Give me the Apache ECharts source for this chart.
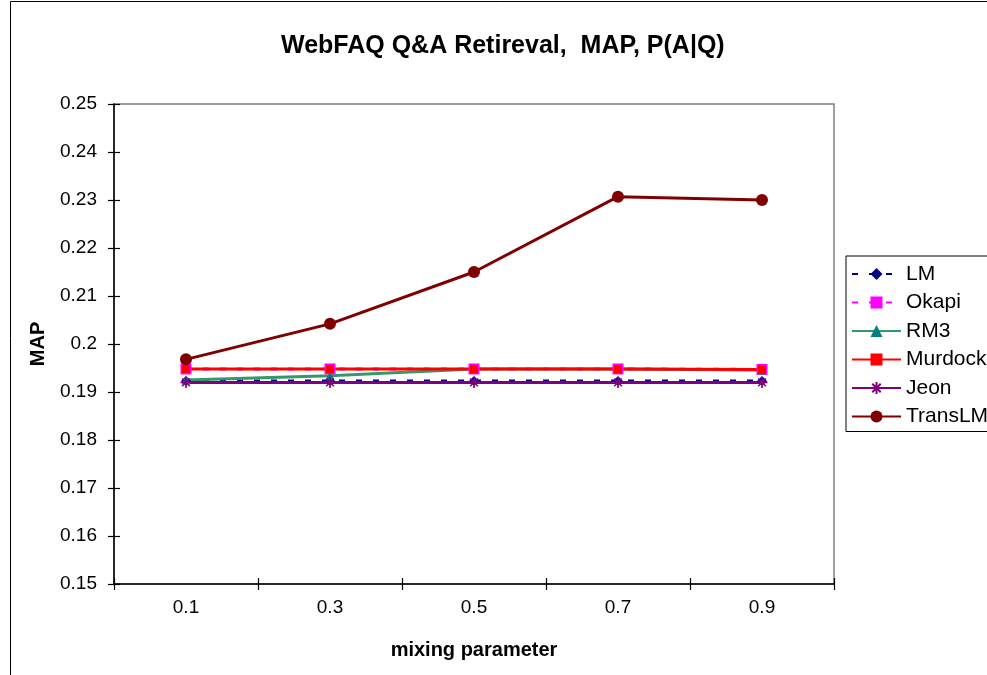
<!DOCTYPE html>
<html>
<head>
<meta charset="utf-8">
<script src="https://cdn.jsdelivr.net/npm/echarts@6/dist/echarts.min.js"></script>
<style>
  html, body { margin: 0; padding: 0; background: #ffffff; }
  #chart { width: 987px; height: 675px; }
</style>
</head>
<body>
<div id="chart"></div>
<script>
// Mixing-parameter values on the x axis
const categories = ['0.1', '0.3', '0.5', '0.7', '0.9'];

// MAP per model
const lmValues      = [0.1923, 0.1923, 0.1923, 0.1923, 0.1923];
const okapiValues   = [0.1948, 0.1948, 0.1948, 0.1948, 0.1947];
const rm3Values     = [0.1925, 0.1934, 0.1948, 0.1948, 0.1946];
const murdockValues = [0.1948, 0.1948, 0.1948, 0.1948, 0.1947];
const jeonValues    = [0.1920, 0.1920, 0.1920, 0.1920, 0.1920];
const transLMValues = [0.1968, 0.2042, 0.2150, 0.2307, 0.2300];

const FONT = "'Liberation Sans', Arial, sans-serif";

// Asterisk marker built from stroked spokes
const asterisk = 'path://M0,5L10,5M5,0L5,10M1.5,1.5L8.5,8.5M8.5,1.5L1.5,8.5';

function lineSeries(name, data, lineColor, lineType, symbol, symbolSize, markerStyle) {
  return {
    name: name,
    type: 'line',
    data: data,
    xAxisIndex: 0,
    yAxisIndex: 0,
    symbol: symbol,
    symbolSize: symbolSize,
    showAllSymbol: true,
    animation: false,
    lineStyle: { color: lineColor, width: 3, type: lineType },
    itemStyle: markerStyle
  };
}

const chart = echarts.init(document.getElementById('chart'), null, { renderer: 'canvas' });

chart.setOption({
  backgroundColor: '#ffffff',
  animation: false,
  textStyle: { fontFamily: FONT },
  title: {
    text: 'WebFAQ Q&A Retireval,  MAP, P(A|Q)',
    left: 276,
    top: 29,
    textStyle: { fontFamily: FONT, fontSize: 25, fontWeight: 'bold', color: '#000000' }
  },
  graphic: [{
    type: 'rect',
    silent: true,
    z: -1,
    shape: { x: 10.5, y: 1.5, width: 1200, height: 1000 },
    style: { fill: 'none', stroke: '#000000', lineWidth: 1 }
  }],
  legend: {
    orient: 'vertical',
    left: 846,
    top: 256,
    padding: [7.5, 40, 4.5, 5],
    itemGap: 7.5,
    itemWidth: 49,
    itemHeight: 15,
    borderColor: '#000000',
    borderWidth: 1,
    backgroundColor: '#ffffff',
    textStyle: { fontFamily: FONT, fontSize: 21, color: '#000000' },
    data: ['LM', 'Okapi', 'RM3', 'Murdock', 'Jeon', 'TransLM']
  },
  grid: {
    left: 114,
    top: 104,
    right: 153,
    bottom: 91,
    show: true,
    borderColor: '#808080',
    borderWidth: 1.5,
    backgroundColor: '#ffffff'
  },
  xAxis: [{
    type: 'category',
    data: categories,
    position: 'bottom',
    boundaryGap: true,
    name: 'mixing parameter',
    nameLocation: 'middle',
    nameGap: 56,
    nameTextStyle: { fontFamily: FONT, fontSize: 20, fontWeight: 'bold', color: '#000000' },
    axisLine: { show: true, lineStyle: { color: '#000000', width: 1.5 } },
    axisTick: { show: true, inside: false, length: 6, lineStyle: { color: '#000000', width: 1.2 } },
    axisLabel: { fontFamily: FONT, fontSize: 19, color: '#000000', margin: 14 },
    splitLine: { show: false }
  }, {
    type: 'category',
    data: categories,
    position: 'bottom',
    boundaryGap: true,
    axisLine: { show: false },
    axisTick: { show: true, inside: true, length: 6, lineStyle: { color: '#000000', width: 1.2 } },
    axisLabel: { show: false },
    splitLine: { show: false }
  }],
  yAxis: [{
    type: 'value',
    min: 0.15,
    max: 0.25,
    interval: 0.01,
    position: 'left',
    name: 'MAP',
    nameLocation: 'middle',
    nameGap: 66,
    nameTextStyle: { fontFamily: FONT, fontSize: 20, fontWeight: 'bold', color: '#000000' },
    axisLine: { show: true, lineStyle: { color: '#000000', width: 1.5 } },
    axisTick: { show: true, inside: false, length: 6, lineStyle: { color: '#000000', width: 1.2 } },
    axisLabel: {
      fontFamily: FONT, fontSize: 19, color: '#000000', margin: 17,
      formatter: function (v) { return String(parseFloat(v.toFixed(2))); }
    },
    splitLine: { show: false }
  }, {
    type: 'value',
    min: 0.15,
    max: 0.25,
    interval: 0.01,
    position: 'left',
    axisLine: { show: false },
    axisTick: { show: true, inside: true, length: 6, lineStyle: { color: '#000000', width: 1.2 } },
    axisLabel: { show: false },
    splitLine: { show: false }
  }],
  series: [
    lineSeries('LM', lmValues, '#000080', [6, 11], 'diamond', 10,
      { color: '#000080' }),
    lineSeries('Okapi', okapiValues, '#FF00FF', [6, 11], 'rect', 11,
      { color: '#FF00FF' }),
    lineSeries('RM3', rm3Values, '#339966', 'solid', 'triangle', 9,
      { color: '#008080' }),
    lineSeries('Murdock', murdockValues, '#FF0000', 'solid', 'rect', 8,
      { color: '#FF0000' }),
    lineSeries('Jeon', jeonValues, '#800080', 'solid', asterisk, 11,
      { color: 'none', borderColor: '#800080', borderWidth: 1.6 }),
    lineSeries('TransLM', transLMValues, '#800000', 'solid', 'circle', 12,
      { color: '#800000' })
  ]
});
</script>
</body>
</html>
